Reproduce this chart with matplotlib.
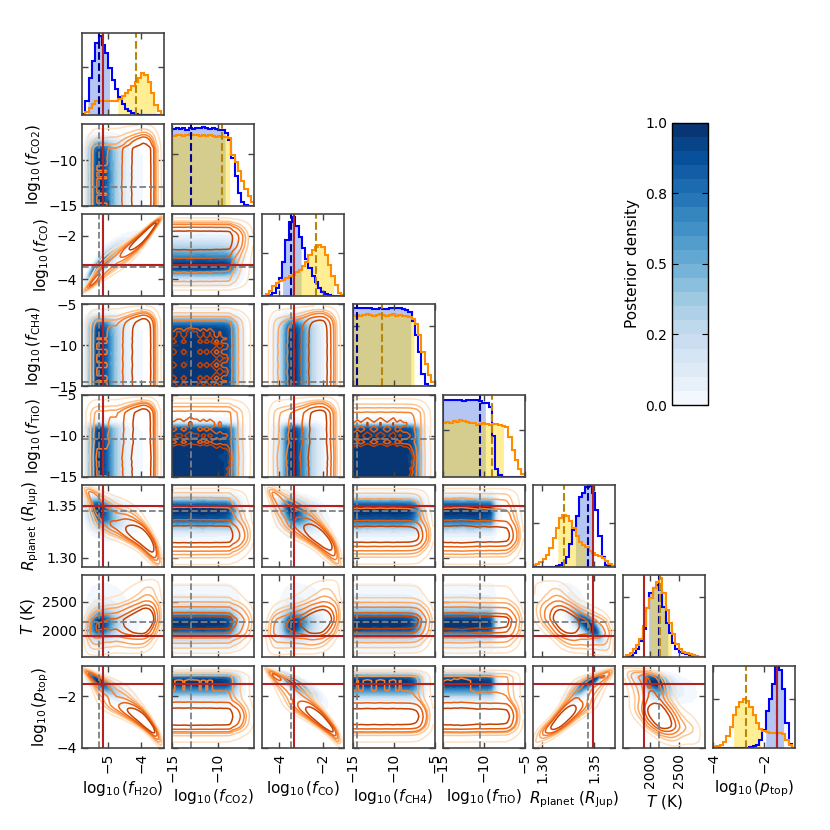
import math
import numpy as np
import matplotlib
matplotlib.use("Agg")
import matplotlib.pyplot as plt
from matplotlib.ticker import FormatStrFormatter

# parameters of the retrieval
labels = [r"$\log_{10}(f_{\rm H2O})$", r"$\log_{10}(f_{\rm CO2})$", r"$\log_{10}(f_{\rm CO})$",
          r"$\log_{10}(f_{\rm CH4})$", r"$\log_{10}(f_{\rm TiO})$",
          r"$R_{\rm planet}$ ($R_{\rm Jup}$)", r"$T$ (K)", r"$\log_{10}(p_{\rm top})$"]
ranges = [(-5.77, -3.31), (-15, -6), (-4.78, -1.0), (-15, -5), (-15, -5),
          (1.291, 1.370), (1525, 2965), (-4, -0.8)]
ticks = [[-5, -4], [-15, -10], [-4, -2], [-15, -10, -5], [-15, -10, -5],
         [1.30, 1.35], [2000, 2500], [-4, -2]]

# marginal histograms (25 bins over each range, height = fraction of panel)
hist_blue = [
    [0.02, 0.18, 0.45, 0.66, 0.88, 0.96, 0.86, 0.76, 0.58, 0.43, 0.32, 0.22, 0.14, 0.08, 0.05, 0.03, 0.02, 0.01, 0.01, 0, 0, 0, 0, 0, 0],
    [0.93, 0.94, 0.93, 0.94, 0.92, 0.94, 0.93, 0.95, 0.95, 0.96, 0.94, 0.93, 0.94, 0.93, 0.92, 0.92, 0.88, 0.80, 0.58, 0.36, 0.15, 0.05, 0.01, 0, 0],
    [0, 0, 0.01, 0.04, 0.10, 0.22, 0.42, 0.68, 0.90, 0.96, 0.85, 0.72, 0.58, 0.45, 0.34, 0.25, 0.17, 0.10, 0.05, 0.02, 0.01, 0, 0, 0, 0],
    [0.95, 0.96, 0.96, 0.95, 0.96, 0.95, 0.94, 0.94, 0.95, 0.94, 0.94, 0.95, 0.96, 0.95, 0.95, 0.94, 0.93, 0.90, 0.80, 0.62, 0.42, 0.15, 0.03, 0.01, 0],
    [0.94, 0.94, 0.93, 0.94, 0.93, 0.93, 0.92, 0.94, 0.94, 0.94, 0.93, 0.92, 0.90, 0.90, 0.85, 0.50, 0.10, 0.02, 0, 0, 0, 0, 0, 0, 0],
    [0, 0, 0, 0, 0, 0, 0, 0.01, 0.02, 0.05, 0.12, 0.28, 0.45, 0.62, 0.85, 0.90, 0.97, 0.99, 0.90, 0.70, 0.38, 0.12, 0.03, 0.01, 0],
    [0, 0.01, 0.02, 0.05, 0.10, 0.20, 0.35, 0.60, 0.78, 0.84, 0.88, 0.82, 0.62, 0.42, 0.30, 0.18, 0.10, 0.07, 0.05, 0.04, 0.03, 0.02, 0.01, 0, 0],
    [0, 0, 0, 0, 0, 0, 0, 0, 0, 0, 0, 0.01, 0.02, 0.04, 0.10, 0.22, 0.45, 0.60, 0.78, 0.98, 0.95, 0.72, 0.30, 0.05, 0],
]
hist_orange = [
    [0.01, 0.04, 0.09, 0.14, 0.17, 0.17, 0.17, 0.17, 0.18, 0.18, 0.18, 0.20, 0.23, 0.27, 0.31, 0.36, 0.41, 0.46, 0.51, 0.49, 0.40, 0.27, 0.13, 0.05, 0.01],
    [0.85, 0.86, 0.86, 0.85, 0.86, 0.87, 0.86, 0.86, 0.85, 0.86, 0.85, 0.86, 0.85, 0.84, 0.85, 0.84, 0.84, 0.82, 0.62, 0.53, 0.42, 0.30, 0.20, 0.12, 0.05],
    [0, 0.02, 0.06, 0.12, 0.16, 0.18, 0.20, 0.22, 0.24, 0.26, 0.29, 0.32, 0.36, 0.42, 0.50, 0.56, 0.60, 0.62, 0.60, 0.50, 0.38, 0.25, 0.13, 0.04, 0.01],
    [0.86, 0.87, 0.86, 0.87, 0.88, 0.87, 0.86, 0.87, 0.88, 0.87, 0.86, 0.87, 0.88, 0.86, 0.87, 0.86, 0.86, 0.85, 0.82, 0.76, 0.62, 0.42, 0.27, 0.14, 0.05],
    [0.66, 0.67, 0.66, 0.68, 0.67, 0.69, 0.68, 0.67, 0.66, 0.65, 0.63, 0.64, 0.65, 0.64, 0.63, 0.64, 0.64, 0.63, 0.62, 0.60, 0.48, 0.33, 0.21, 0.10, 0.03],
    [0.02, 0.04, 0.06, 0.10, 0.15, 0.23, 0.35, 0.48, 0.60, 0.64, 0.62, 0.56, 0.48, 0.38, 0.30, 0.27, 0.24, 0.20, 0.17, 0.15, 0.13, 0.11, 0.08, 0.04, 0.01],
    [0.01, 0.03, 0.06, 0.10, 0.15, 0.22, 0.38, 0.60, 0.72, 0.85, 0.92, 0.97, 0.78, 0.58, 0.42, 0.28, 0.17, 0.10, 0.07, 0.05, 0.04, 0.03, 0.02, 0.01, 0],
    [0.01, 0.02, 0.04, 0.07, 0.14, 0.25, 0.40, 0.50, 0.56, 0.60, 0.57, 0.50, 0.40, 0.30, 0.23, 0.20, 0.19, 0.18, 0.18, 0.18, 0.18, 0.17, 0.10, 0.03, 0],
]

# medians of both runs and the true values (None = no truth marked)
med_blue = [-5.26, -13.0, -3.45, -14.45, -10.45, 1.3445, 2150, -1.52]
med_orange = [-4.16, -9.55, -2.32, -11.4, -9.0, 1.321, 2170, -2.72]
truth = [-5.13, None, -3.34, None, None, 1.3494, 1895, -1.5]

# shaded intervals under the histograms
fill_blue = [(-5.6, -4.95), (-15, -9.2), (-3.85, -3.0), (-15, -7.9), (-15, -9.8),
             (1.332, 1.349), (1975, 2310), (-1.95, -1.25)]
fill_orange = [(-4.7, -3.55), (-15, -8.7), (-3.3, -1.5), (-15, -7.5), (-15, -7.6),
               (1.315, 1.341), (2000, 2370), (-3.2, -2.15)]

# pairwise correlations (normal-score space), estimated from the 2d panels
corr_blue = {(0, 2): 0.9, (0, 5): -0.3, (0, 6): 0.1, (0, 7): -0.8,
             (2, 5): -0.3, (2, 6): 0.1, (2, 7): -0.85,
             (5, 6): -0.75, (5, 7): 0.85, (6, 7): -0.4}
corr_orange = {(0, 2): 0.97, (0, 5): -0.85, (0, 6): 0.3, (0, 7): -0.93,
               (2, 5): -0.85, (2, 6): 0.3, (2, 7): -0.93,
               (5, 6): -0.5, (5, 7): 0.9, (6, 7): -0.6}

diag_ytick = [0.59, 0.63, 0.53, 0.73, 0.57, 0.54, 0.74, 0.6]

n = len(labels)
ngrid = 100
z_tab = np.linspace(-6, 6, 1201)
cdf_tab = np.array([0.5 * (1 + math.erf(v / math.sqrt(2))) for v in z_tab])


def marginal(k, heights):
    lo, hi = ranges[k]
    nb = len(heights)
    edges = np.linspace(lo, hi, nb + 1)
    centers = 0.5 * (edges[1:] + edges[:-1])
    xg = np.linspace(lo, hi, ngrid)
    f = np.clip(np.interp(xg, centers, heights), 0, None) + 1e-4
    F = np.cumsum(f)
    F = (F - 0.5 * f) / F[-1]
    F = np.clip(F, 1e-5, 1 - 1e-5)
    z = np.interp(F, cdf_tab, z_tab)
    return xg, f, z


def density2d(mx, my, rho):
    xg, fx, zx = mx
    yg, fy, zy = my
    Z1 = zx[None, :]
    Z2 = zy[:, None]
    c = np.exp(-(rho ** 2 * (Z1 ** 2 + Z2 ** 2) - 2 * rho * Z1 * Z2) / (2 * (1 - rho ** 2))) / np.sqrt(1 - rho ** 2)
    return fy[:, None] * fx[None, :] * c


def mass_levels(d, masses):
    flat = np.sort(d.ravel())[::-1]
    cum = np.cumsum(flat)
    cum /= cum[-1]
    lv = np.sort([flat[min(np.searchsorted(cum, m), flat.size - 1)] for m in masses])
    for i in range(1, len(lv)):
        if lv[i] <= lv[i - 1]:
            lv[i] = lv[i - 1] * 1.0001 + 1e-12
    return lv


def fill_step(ax, edges, h, lo, hi, color, alpha):
    xs = np.linspace(lo, hi, 500)
    idx = np.clip(np.searchsorted(edges, xs, side="right") - 1, 0, len(h) - 1)
    ax.fill_between(xs, 0, h[idx], color=color, alpha=alpha, lw=0)


marg_b = [marginal(k, hist_blue[k]) for k in range(n)]
marg_o = [marginal(k, hist_orange[k]) for k in range(n)]

masses = [0.99, 0.95, 0.9, 0.8, 0.6, 0.4]
orange_cols = plt.cm.Oranges(np.linspace(0.15, 0.8, len(masses)))
blue_levels = np.linspace(0, 1, 21)

fig, axes = plt.subplots(n, n, figsize=(8.3, 8.3), dpi=100)
fig.subplots_adjust(left=0.099, right=0.958, bottom=0.099, top=0.960, wspace=0.1, hspace=0.1)

spine_col = "#444444"
cs_ref = None
for i in range(n):
    for j in range(n):
        ax = axes[i, j]
        if j > i:
            ax.set_visible(False)
            continue
        if i == j:
            lo, hi = ranges[i]
            edges = np.linspace(lo, hi, len(hist_blue[i]) + 1)
            hb = np.array(hist_blue[i], dtype=float)
            ho = np.array(hist_orange[i], dtype=float)
            fill_step(ax, edges, hb, *fill_blue[i], color="royalblue", alpha=0.38)
            fill_step(ax, edges, ho, *fill_orange[i], color="gold", alpha=0.42)
            ax.stairs(hb, edges, color="blue", lw=1.5)
            ax.stairs(ho, edges, color="darkorange", lw=1.5)
            ax.axvline(med_blue[i], color="darkblue", ls="--", lw=1.5)
            ax.axvline(med_orange[i], color="darkgoldenrod", ls="--", lw=1.5)
            if truth[i] is not None:
                ax.axvline(truth[i], color="firebrick", lw=1.5)
            ax.set_xlim(lo, hi)
            ax.set_ylim(0, 1.0)
            ax.set_yticks([diag_ytick[i]])
            ax.set_yticklabels([])
        else:
            key = (j, i)
            mx_b, my_b = marg_b[j], marg_b[i]
            mx_o, my_o = marg_o[j], marg_o[i]
            db = density2d(mx_b, my_b, corr_blue.get(key, 0.0))
            db = db / db.max()
            db = np.ma.masked_less(db, 0.01)
            cs = ax.contourf(mx_b[0], my_b[0], db, levels=blue_levels, cmap="Blues")
            if cs_ref is None:
                cs_ref = cs
            do = density2d(mx_o, my_o, corr_orange.get(key, 0.0))
            lv = mass_levels(do, masses)
            ax.contour(mx_o[0], my_o[0], do, levels=lv, colors=orange_cols, linewidths=1.1)
            ax.axvline(med_blue[j], color="gray", ls="--", lw=1.3)
            ax.axhline(med_blue[i], color="gray", ls="--", lw=1.3)
            if truth[j] is not None:
                ax.axvline(truth[j], color="firebrick", lw=1.5)
            if truth[i] is not None:
                ax.axhline(truth[i], color="firebrick", lw=1.5)
            ax.set_xlim(*ranges[j])
            ax.set_ylim(*ranges[i])
            ax.set_yticks(ticks[i])
        ax.set_xticks(ticks[j])
        ax.tick_params(direction="in", top=True, right=True, length=4, width=1,
                       color=spine_col, labelsize=10)
        for s in ax.spines.values():
            s.set_color(spine_col)
            s.set_linewidth(1.2)
        if i == n - 1:
            for t in ax.get_xticklabels():
                t.set_rotation(90)
            ax.set_xlabel(labels[j], fontsize=11)
        else:
            ax.set_xticklabels([])
        if j == 0 and i > 0:
            ax.set_ylabel(labels[i], fontsize=11)
        elif i != j:
            ax.set_yticklabels([])

cax = fig.add_axes([0.810, 0.512, 0.043, 0.340])
cb = fig.colorbar(cs_ref, cax=cax)
cb.set_ticks([0, 0.25, 0.5, 0.75, 1.0])
cax.yaxis.set_major_formatter(FormatStrFormatter("%.1f"))
cax.yaxis.set_ticks_position("both")
cax.tick_params(direction="in", labelleft=True, labelright=False, length=4, labelsize=10)
cax.yaxis.set_label_position("left")
cb.set_label("Posterior density", fontsize=11)
cb.outline.set_linewidth(1.0)

fig.savefig("out.png", dpi=100)
